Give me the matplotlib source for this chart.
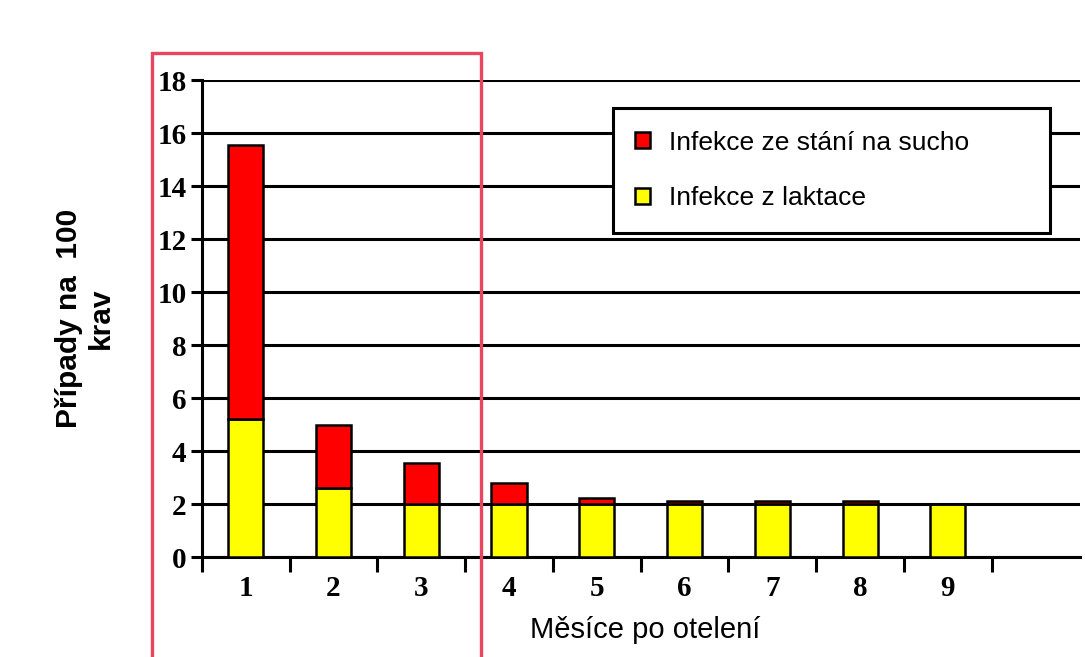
import matplotlib.pyplot as plt
from matplotlib.patches import Rectangle

# data
months = [1, 2, 3, 4, 5, 6, 7, 8, 9]
month_labels = ["1", "2", "3", "4", "5", "6", "7", "8", "9"]
lactation = [5.2, 2.6, 2.0, 2.0, 2.0, 2.0, 2.0, 2.0, 2.0]
dry_period = [10.35, 2.4, 1.55, 0.8, 0.25, 0.1, 0.1, 0.1, 0.02]

fig = plt.figure(figsize=(10.85, 6.57), dpi=100)
ax = fig.add_axes([0.186, 0.152, 0.809, 0.726])

ax.set_axisbelow(True)
ax.yaxis.grid(True, color="black", linewidth=2.2)

ax.bar(months, lactation, width=0.4, color="#ffff00", edgecolor="black",
       linewidth=1.8, label="Infekce z laktace", zorder=3)
ax.bar(months, dry_period, width=0.4, bottom=lactation, color="#ff0000",
       edgecolor="black", linewidth=1.8, label="Infekce ze stání na sucho", zorder=3)

ax.set_xlim(0.5, 10.5)
ax.set_ylim(0, 18)
ax.set_yticks(range(0, 19, 2))
ax.set_xticks(months)
ax.set_xticklabels(month_labels)
ax.set_xticks([m + 0.5 for m in range(0, 10)], minor=True)
ax.tick_params(axis="x", which="major", length=0, pad=13)
ax.tick_params(axis="x", which="minor", length=11, width=2.2, direction="out")
ax.tick_params(axis="y", length=8, width=2.2, pad=3)

for lab in ax.get_xticklabels() + ax.get_yticklabels():
    lab.set_fontfamily("Liberation Serif")
    lab.set_fontweight("bold")
    lab.set_fontsize(21)

for side in ["top", "right"]:
    ax.spines[side].set_visible(False)
for side in ["left", "bottom"]:
    ax.spines[side].set_linewidth(2.2)

ax.set_xlabel("Měsíce po otelení", fontfamily="Liberation Sans", fontsize=21)
ax.xaxis.label.set_va("center")
ax.xaxis.set_label_coords(0.505, -0.153)
ax.set_ylabel("Případy na  100\nkrav", fontfamily="Liberation Sans",
              fontsize=21.5, fontweight="bold", linespacing=1.15)
ax.yaxis.label.set_va("center")
ax.yaxis.set_label_coords(-0.133, 0.50)

handles, labels = ax.get_legend_handles_labels()
leg_h = 122 / 477
leg = ax.legend(handles[::-1], labels[::-1], loc="upper left",
                bbox_to_anchor=(0.468, 0.941 - leg_h, 0.498, leg_h),
                mode="expand", frameon=True, fancybox=False, framealpha=1,
                prop={"family": "Liberation Sans", "size": 19},
                handlelength=0.55, handleheight=0.55, handletextpad=0.75,
                labelspacing=1.2, borderpad=0.85, borderaxespad=0)
leg.get_frame().set_edgecolor("black")
leg.get_frame().set_linewidth(2.2)
leg.set_zorder(5)
for h in leg.legend_handles:
    h.set_linewidth(1.8)

# highlight box around first three months
fig.patches.append(Rectangle((0.140, -0.05), 0.303, 0.969, fill=False,
                             edgecolor="#e8455f", linewidth=2.4,
                             transform=fig.transFigure, figure=fig))

fig.savefig("out.png", dpi=100, facecolor="white")
